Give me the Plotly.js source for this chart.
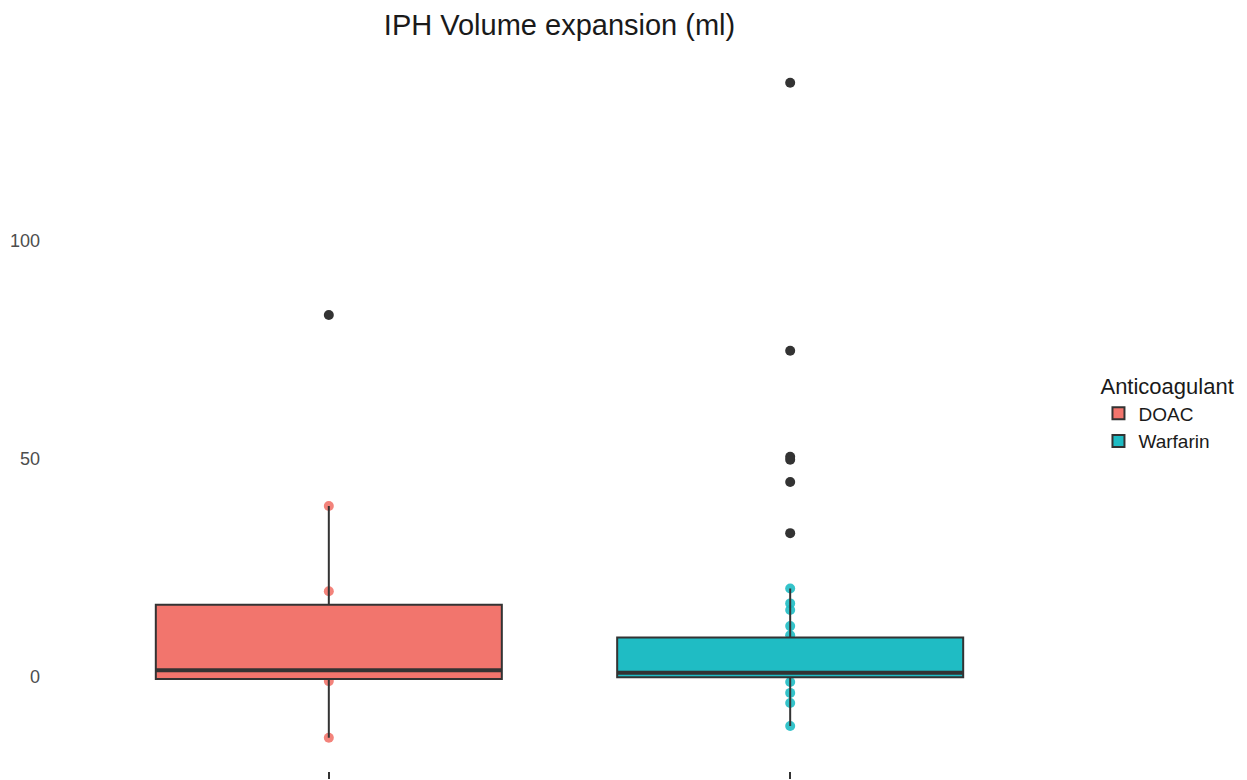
<!DOCTYPE html>
<html>
<head>
<meta charset="utf-8">
<script src="https://cdn.plot.ly/plotly-3.0.1.min.js"></script>
<style>html,body{margin:0;padding:0;background:#fff;}#chart{width:1247px;height:780px;}</style>
</head>
<body>
<div id="chart"></div>
<script>
// ---- data ----
const groups = ["DOAC", "Warfarin"];
const groupX = [1, 2];
const colors = ["#F2756D", "#1FBCC4"];
const q1 = [-0.4, 0.0];
const medians = [1.6, 1.0];
const q3 = [16.6, 9.1];
const lowerFence = [-13.9, -11.2];
const upperFence = [39.2, 20.3];
const outliersDOAC = [83.0];
const outliersWarfarin = [136.2, 74.8, 50.5, 49.8, 44.7, 33.0];
const pointsDOAC = [39.2, 19.7, -0.9, -13.9];
const pointsWarfarin = [20.3, 16.9, 15.4, 11.7, 9.6, -1.1, -3.6, -5.9, -11.2];
const yTicks = [0, 50, 100];

const outliers = [outliersDOAC, outliersWarfarin];
const points = [pointsDOAC, pointsWarfarin];
const boxWidth = 0.75;
const xRange = [0.4, 2.6];
const yRange = [-21.5, 143.7];
const dark = "#333333";

const traces = [];
// coloured sample points (underneath the boxes, base axes)
groups.forEach((g, i) => {
  traces.push({
    type: "scatter", mode: "markers", xaxis: "x", yaxis: "y",
    x: points[i].map(() => groupX[i]), y: points[i],
    marker: {color: colors[i], size: 10, opacity: 0.9},
    showlegend: false, hoverinfo: "y"
  });
});
// boxes (overlay axes, drawn above the points)
groups.forEach((g, i) => {
  traces.push({
    type: "box", name: g, xaxis: "x2", yaxis: "y2",
    x: [groupX[i]], q1: [q1[i]], median: [medians[i]], q3: [q3[i]],
    lowerfence: [lowerFence[i]], upperfence: [upperFence[i]],
    width: boxWidth, whiskerwidth: 0, boxpoints: false,
    fillcolor: colors[i], line: {color: dark, width: 2},
    legendgroup: g
  });
});
// thick median lines
groups.forEach((g, i) => {
  traces.push({
    type: "scatter", mode: "lines", xaxis: "x2", yaxis: "y2",
    x: [groupX[i] - boxWidth / 2, groupX[i] + boxWidth / 2],
    y: [medians[i], medians[i]],
    line: {color: dark, width: 4}, showlegend: false, hoverinfo: "skip"
  });
});
// outliers
groups.forEach((g, i) => {
  traces.push({
    type: "scatter", mode: "markers", xaxis: "x2", yaxis: "y2",
    x: outliers[i].map(() => groupX[i]), y: outliers[i],
    marker: {color: dark, size: 10}, showlegend: false, hoverinfo: "y"
  });
});

const font = "Liberation Sans, Arial, Helvetica, sans-serif";
const layout = {
  width: 1247, height: 780,
  margin: {l: 52, r: 180, t: 50, b: 9},
  paper_bgcolor: "#ffffff", plot_bgcolor: "#ffffff",
  font: {family: font, color: "#1a1a1a"},
  title: {text: "IPH Volume expansion (ml)", font: {size: 29, color: "#1a1a1a", family: font},
          x: 0.4487, xanchor: "center", y: 0.968, yanchor: "middle"},
  xaxis: {range: xRange, tickvals: groupX, ticktext: ["", ""], ticks: "outside", ticklen: 7,
          tickcolor: dark, tickwidth: 1.5, showgrid: false, zeroline: false, showline: false, fixedrange: true},
  yaxis: {range: yRange, tickvals: yTicks, ticks: "", showgrid: false, zeroline: false, showline: false,
          tickfont: {size: 18, color: "#4D4D4D", family: font}, ticklabelstandoff: 11},
  xaxis2: {range: xRange, overlaying: "x", visible: false},
  yaxis2: {range: yRange, overlaying: "y", visible: false},
  showlegend: true,
  legend: {x: 1.031, xanchor: "left", y: 0.562, yanchor: "top",
           title: {text: "Anticoagulant", font: {size: 22, color: "#1a1a1a", family: font}},
           font: {size: 19, color: "#1a1a1a", family: font}, tracegroupgap: 0, bgcolor: "rgba(0,0,0,0)"},
  hovermode: "closest"
};

Plotly.newPlot("chart", traces, layout, {displayModeBar: false, staticPlot: true});
</script>
</body>
</html>
